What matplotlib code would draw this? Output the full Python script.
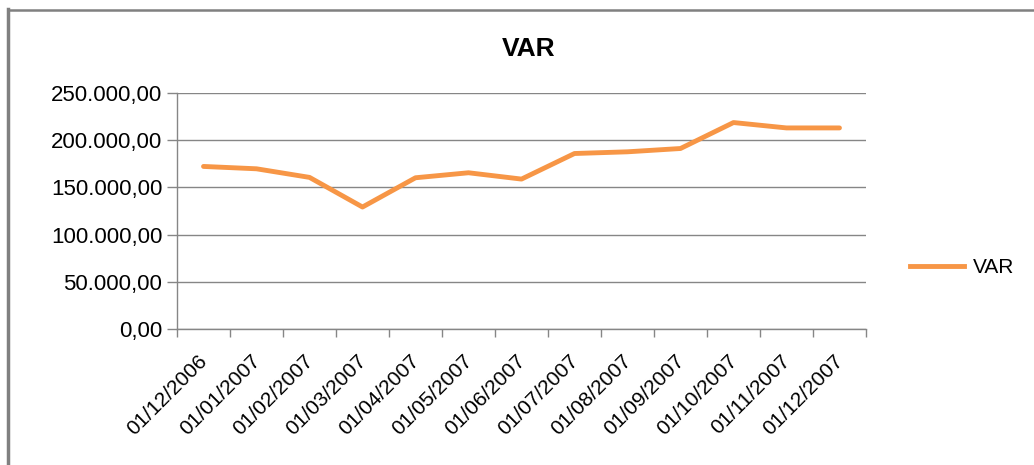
import numpy as np
import matplotlib.pyplot as plt
import matplotlib.transforms as mtransforms
from matplotlib.lines import Line2D
from matplotlib.ticker import FuncFormatter

plt.rcParams['font.family'] = ['Liberation Sans', 'DejaVu Sans']

# data
dates = ['01/12/2006', '01/01/2007', '01/02/2007', '01/03/2007', '01/04/2007',
         '01/05/2007', '01/06/2007', '01/07/2007', '01/08/2007', '01/09/2007',
         '01/10/2007', '01/11/2007', '01/12/2007']
var_values = [172200, 169700, 160600, 129200, 160200, 165500, 158800,
              185900, 187700, 191200, 218700, 213000, 213000]
y_ticks = [0, 50000, 100000, 150000, 200000, 250000]

grey = '#868686'

fig = plt.figure(figsize=(10.34, 4.65), dpi=100)
ax = fig.add_axes([0.1712, 0.2925, 0.8375 - 0.1712, 0.8 - 0.2925])

x = np.arange(len(dates))
ax.plot(x, var_values, color='#F79646', lw=3.5, solid_capstyle='round',
        solid_joinstyle='round', label='VAR', zorder=3)

ax.set_xlim(-0.5, len(dates) - 0.5)
ax.set_ylim(0, 250000)

# y axis, european number format
def fmt(v, pos):
    s = '{:,.2f}'.format(v)
    return s.replace(',', 'X').replace('.', ',').replace('X', '.')

ax.set_yticks(y_ticks)
ax.yaxis.set_major_formatter(FuncFormatter(fmt))
ax.grid(axis='y', color=grey, lw=1)
ax.set_axisbelow(True)

# x axis: ticks between categories, labels at centres
ax.set_xticks(np.arange(len(dates) + 1) - 0.5)
ax.set_xticklabels([])
ax.set_xticks(x, minor=True)
ax.set_xticklabels(dates, minor=True, rotation=45, ha='right',
                   rotation_mode='anchor', fontsize=15)
ax.tick_params(axis='x', which='minor', length=0, pad=16)
ax.tick_params(axis='x', which='major', length=6, color=grey, width=1)
ax.tick_params(axis='y', length=7, color=grey, width=1, labelsize=16, pad=3.6)

# nudge the date labels a little to the left
shift = mtransforms.ScaledTranslation(-6 / 100, 0, fig.dpi_scale_trans)
for lbl in ax.get_xticklabels(minor=True):
    lbl.set_transform(lbl.get_transform() + shift)

for s in ['top', 'right']:
    ax.spines[s].set_visible(False)
for s in ['left', 'bottom']:
    ax.spines[s].set_color(grey)
    ax.spines[s].set_linewidth(1)

fig.suptitle('VAR', x=0.511, y=0.92, fontsize=19, fontweight='bold')

fig.legend(handles=[Line2D([], [], color='#F79646', lw=3.5)], labels=['VAR'],
           loc='center left', bbox_to_anchor=(0.862, 0.424), frameon=False,
           fontsize=15, handlelength=2.6, handletextpad=0.4)

# outer frame (left and top only)
fig.add_artist(Line2D([0.0082, 0.0082], [0, 0.98], transform=fig.transFigure,
                      color='#808080', lw=2.5))
fig.add_artist(Line2D([0.0082, 1], [0.978, 0.978], transform=fig.transFigure,
                      color='#808080', lw=1.8))

fig.savefig('out.png', dpi=100, facecolor='white')
